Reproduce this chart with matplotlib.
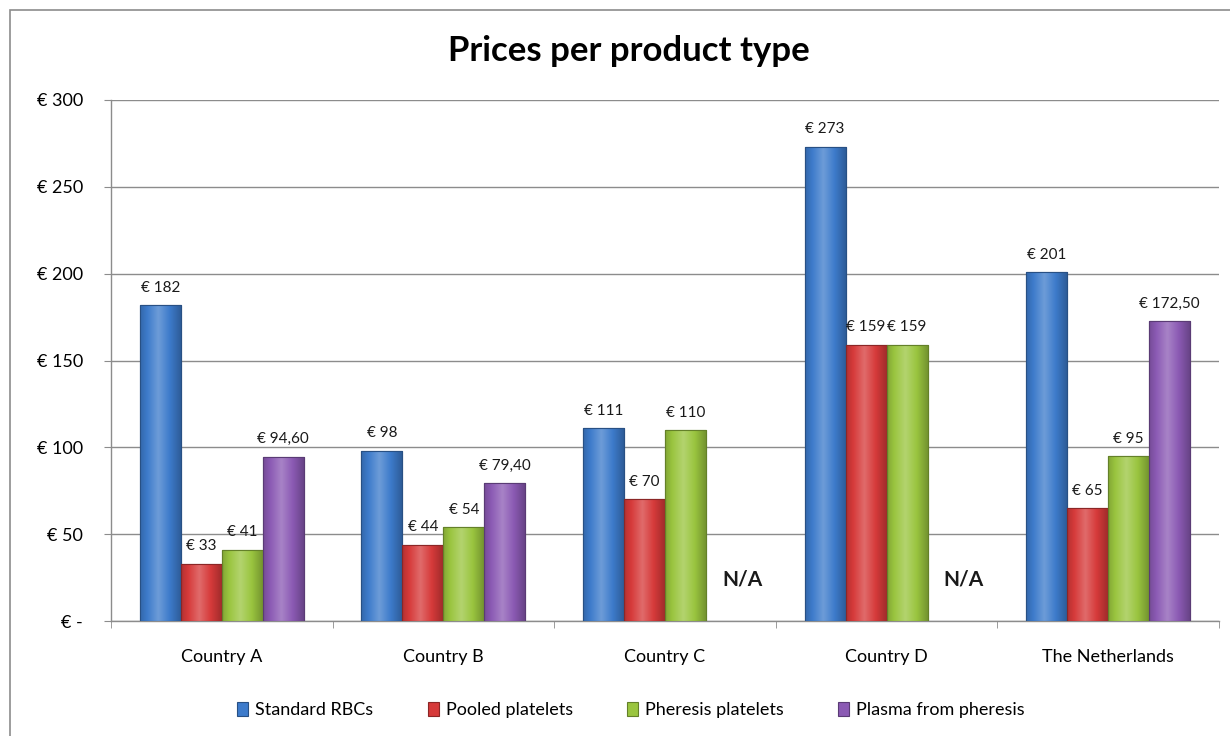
import matplotlib
matplotlib.use("Agg")
import matplotlib.pyplot as plt
import numpy as np
from matplotlib.patches import Rectangle
from matplotlib.colors import to_rgb

categories = ["Country A", "Country B", "Country C", "Country D", "The Netherlands"]
series = ["Standard RBCs", "Pooled platelets", "Pheresis platelets", "Plasma from pheresis"]
rbc = [182, 98, 111, 273, 201]
pooled = [33, 44, 70, 159, 65]
pheresis = [41, 54, 110, 159, 95]
plasma = [94.6, 79.4, None, None, 172.5]
rbc_lbl = ["€ 182", "€ 98", "€ 111", "€ 273", "€ 201"]
pooled_lbl = ["€ 33", "€ 44", "€ 70", "€ 159", "€ 65"]
pheresis_lbl = ["€ 41", "€ 54", "€ 110", "€ 159", "€ 95"]
plasma_lbl = ["€ 94,60", "€ 79,40", "N/A", "N/A", "€ 172,50"]
yticks = [0, 50, 100, 150, 200, 250, 300]
ytick_lbl = ["€ -", "€ 50", "€ 100", "€ 150", "€ 200", "€ 250", "€ 300"]

colors = ["#3D7BCB", "#D63A3A", "#9AC53F", "#8B5AB4"]

plt.rcParams['font.family'] = ['Lato', 'DejaVu Sans']

fig = plt.figure(figsize=(12.3, 7.36), dpi=100)
fig.patches.append(Rectangle((10/1230, -0.1), 1.2, (736-10)/736 + 0.1,
                             transform=fig.transFigure, fill=False,
                             edgecolor="#8C8C8C", linewidth=1.2))
ax = fig.add_axes([111/1230, 1-621/736, 1108/1230, 521/736])

x = np.arange(len(categories))
w = 0.185
all_vals = [rbc, pooled, pheresis, plasma]
all_lbls = [rbc_lbl, pooled_lbl, pheresis_lbl, plasma_lbl]

def shade(c, f):
    r = np.array(to_rgb(c))
    if f >= 0:
        return tuple(r + (1 - r) * f)
    return tuple(r * (1 + f))

for i, (vals, lbls, col) in enumerate(zip(all_vals, all_lbls, colors)):
    pos_all = x + (i - 1.5) * w
    keep = [k for k, v in enumerate(vals) if v is not None]
    pos = [pos_all[k] for k in keep]
    hv = [vals[k] for k in keep]
    bars = ax.bar(pos, hv, width=w, color=col, edgecolor=shade(col, -0.35),
                  linewidth=0.8, zorder=3, label=series[i])
    grad = np.linspace(0, 1, 64)
    prof = 1 - np.abs(grad - 0.45) * 2
    img = np.zeros((1, 64, 3))
    for k, p in enumerate(prof):
        f = 0.25 * p - 0.2 * (1 - p)
        img[0, k] = shade(col, f)
    for b in bars:
        bx, by = b.get_x(), b.get_y()
        bw, bh = b.get_width(), b.get_height()
        im = ax.imshow(img, extent=[bx, bx + bw, by, by + bh], aspect='auto',
                       zorder=3.5, interpolation='bicubic')
        im.set_clip_path(b)
        ax.add_patch(Rectangle((bx, by), bw, bh, fill=False,
                               edgecolor=shade(col, -0.35), linewidth=0.8, zorder=4))
    for p, v, l in zip(pos_all, vals, lbls):
        if v is None:
            ax.text(p + 0.07, 24, l, ha='center', va='center', fontsize=15,
                    fontweight='bold', color='#1a1a1a', zorder=5)
        else:
            ax.text(p, v + 6, l, ha='center', va='bottom', fontsize=11,
                    color='#1a1a1a', zorder=5)

ax.set_xlim(-0.5, len(categories) - 0.5)
ax.set_ylim(0, 300)
ax.set_yticks(yticks)
ax.set_yticklabels(ytick_lbl, fontsize=13)
ax.set_xticks(x)
ax.set_xticklabels(categories, fontsize=13)
ax.set_xticks(np.arange(len(categories) + 1) - 0.5, minor=True)
ax.tick_params(axis='x', which='major', length=0, pad=20)
ax.tick_params(axis='x', which='minor', length=5, color='#8C8C8C', direction='out')
ax.tick_params(axis='y', length=5, color='#8C8C8C', pad=15, direction='out')
ax.yaxis.grid(True, color='#8C8C8C', linewidth=1.0, zorder=0)
ax.set_axisbelow(True)
for s in ['top', 'right']:
    ax.spines[s].set_visible(False)
for s in ['left', 'bottom']:
    ax.spines[s].set_color('#8C8C8C')
    ax.spines[s].set_linewidth(1.0)

fig.text(629/1230, 1-51/736, "Prices per product type", ha='center', va='center',
         fontsize=25, fontweight='bold', color='black')

handles, labels = ax.get_legend_handles_labels()
leg = fig.legend(handles, labels, loc='center', bbox_to_anchor=(631/1230, 1-710/736),
                 ncol=4, frameon=False, fontsize=13, handlelength=0.6,
                 handleheight=0.8, columnspacing=3.0, handletextpad=0.4)

fig.savefig("out.png", dpi=100)
